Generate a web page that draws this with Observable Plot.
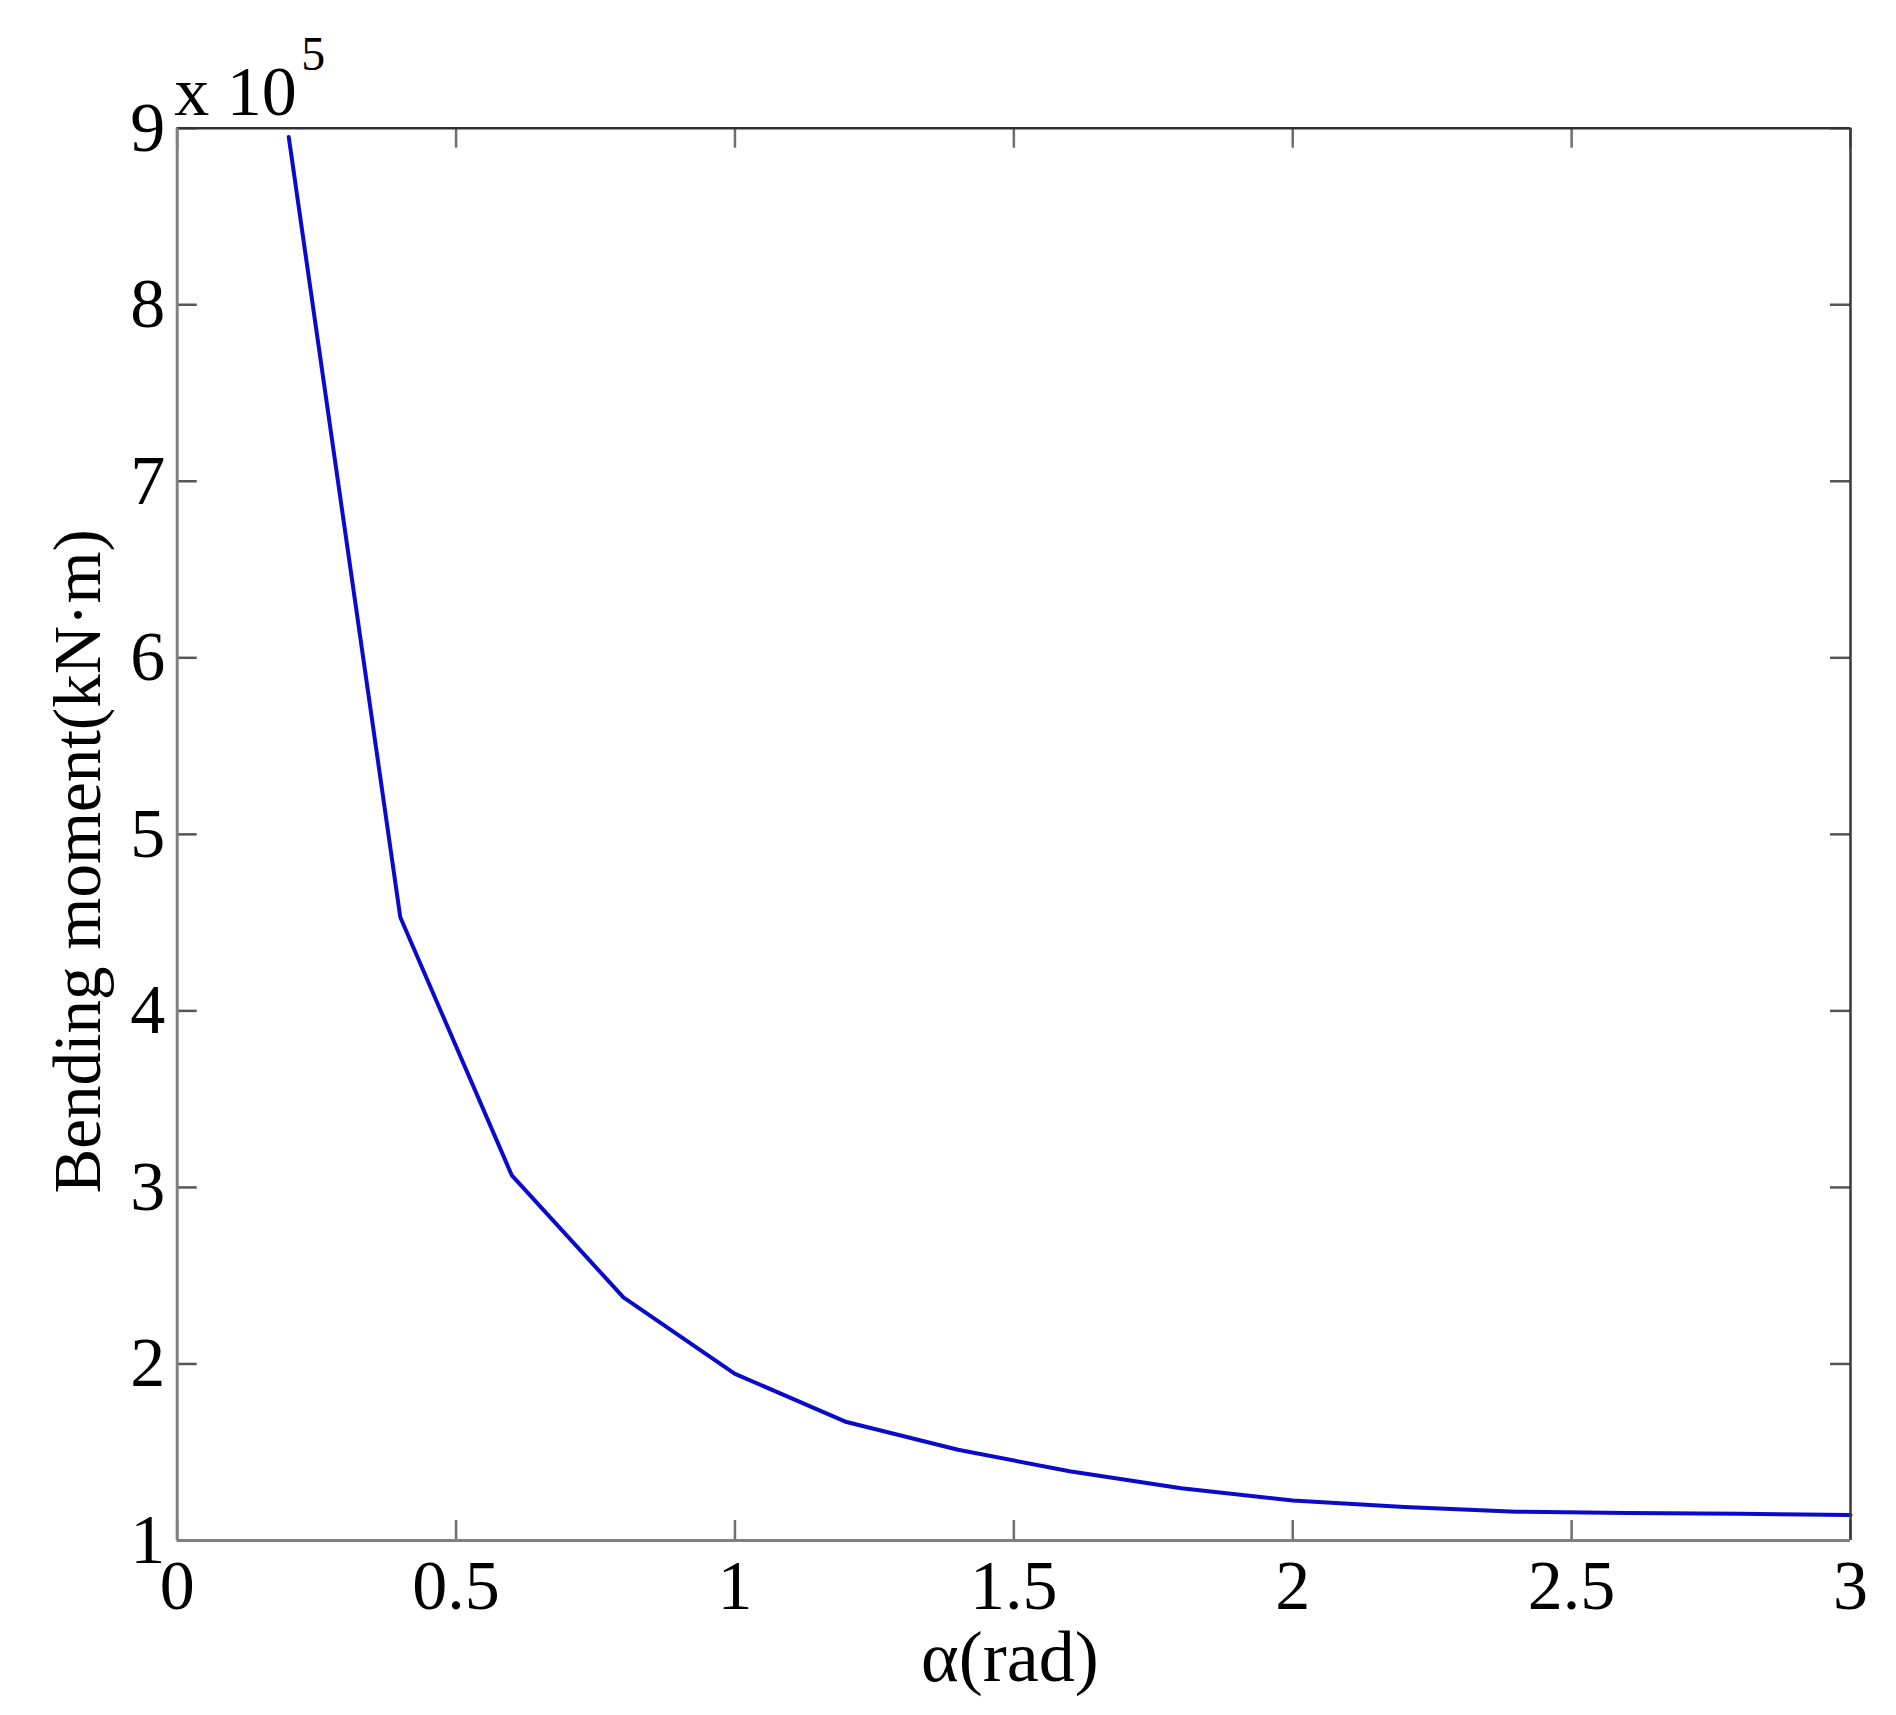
<!DOCTYPE html>
<html>
<head>
<meta charset="utf-8">
<script src="https://cdn.jsdelivr.net/npm/d3@7"></script>
<script src="https://cdn.jsdelivr.net/npm/@observablehq/plot@0.6"></script>
<style>
  html, body { margin: 0; padding: 0; background: #fff; }
  #chart svg { display: block; }
</style>
</head>
<body>
<div id="chart"></div>
<script>
// Data: bending moment (in units of 10^5 kN·m) vs α (rad)
const alpha   = [0.2, 0.4, 0.6, 0.8, 1.0, 1.2, 1.4, 1.6, 1.8, 2.0, 2.2, 2.4, 2.6, 2.8, 3.0];
const moment  = [8.95, 4.53, 3.068, 2.377, 1.944, 1.671, 1.514, 1.392, 1.296, 1.226, 1.19, 1.163, 1.156, 1.151, 1.145];
const xTicks  = [0, 0.5, 1, 1.5, 2, 2.5, 3];
const yTicks  = [1, 2, 3, 4, 5, 6, 7, 8, 9];
const xTickLabels = ["0", "0.5", "1", "1.5", "2", "2.5", "3"];
const yTickLabels = ["1", "2", "3", "4", "5", "6", "7", "8", "9"];
const xLabel = "α(rad)";
const yLabel = "Bending moment(kN·m)";
const exponentBase = "x 10";
const exponentPower = "5";

const data = alpha.map((a, i) => ({a, m: moment[i]}));

const W = 1896, Hh = 1715;
const mL = 176.7, mR = 46, mT = 127.7, mB = 175;
const frameH = Hh - mT - mB;
const frameW = W - mL - mR;
const tickLen = 20;
const fs = 70;

const chart = Plot.plot({
  width: W,
  height: Hh,
  marginLeft: mL,
  marginRight: mR,
  marginTop: mT,
  marginBottom: mB,
  x: {domain: [0, 3], axis: null},
  y: {domain: [1, 9], axis: null},
  style: {fontFamily: "'Liberation Serif', 'Times New Roman', serif", background: "white", color: "black"},
  marks: [
    // data line
    Plot.line(data, {x: "a", y: "m", stroke: "#0a0acc", strokeWidth: 4, strokeLinejoin: "round"}),
    // inward ticks, all four sides
    Plot.tickX(xTicks, {x: d => d, insetTop: frameH - tickLen, stroke: "#6e6e6e", strokeWidth: 2.5}),
    Plot.tickX(xTicks, {x: d => d, insetBottom: frameH - tickLen, stroke: "#6e6e6e", strokeWidth: 2.5}),
    Plot.tickY(yTicks, {y: d => d, insetRight: frameW - tickLen, stroke: "#555", strokeWidth: 2.5}),
    Plot.tickY(yTicks, {y: d => d, insetLeft: frameW - tickLen, stroke: "#555", strokeWidth: 2.5}),
    // box
    Plot.ruleY([9], {stroke: "#333", strokeWidth: 2.5}),
    Plot.ruleX([3], {stroke: "#3a3a3a", strokeWidth: 2.5}),
    Plot.ruleX([0], {stroke: "#808080", strokeWidth: 3}),
    Plot.ruleY([1], {stroke: "#808080", strokeWidth: 3}),
    // tick labels
    Plot.text(xTicks, {x: d => d, frameAnchor: "bottom", lineAnchor: "middle", dy: 46, text: (d, i) => xTickLabels[i], fontSize: fs, fill: "black"}),
    Plot.text(yTicks, {y: d => d, frameAnchor: "left", lineAnchor: "middle", dx: -12, textAnchor: "end", text: (d, i) => yTickLabels[i], fontSize: fs, fill: "black"}),
    // exponent
    Plot.text([exponentBase], {frameAnchor: "top-left", textAnchor: "start", lineAnchor: "bottom", dx: -3, dy: -13.4, fontSize: fs, fill: "black"}),
    Plot.text([exponentPower], {frameAnchor: "top-left", textAnchor: "start", lineAnchor: "bottom", dx: 124, dy: -58, fontSize: 48, fill: "black"}),
    // axis labels
    Plot.text([xLabel], {frameAnchor: "bottom", textAnchor: "middle", lineAnchor: "bottom", dx: -4, dy: 140, fontSize: 72, fill: "black"}),
    Plot.text([yLabel], {frameAnchor: "left", rotate: -90, textAnchor: "middle", lineAnchor: "bottom", dx: -77, dy: 27, fontSize: 67, fill: "black"})
  ]
});
document.getElementById("chart").appendChild(chart);
</script>
</body>
</html>
